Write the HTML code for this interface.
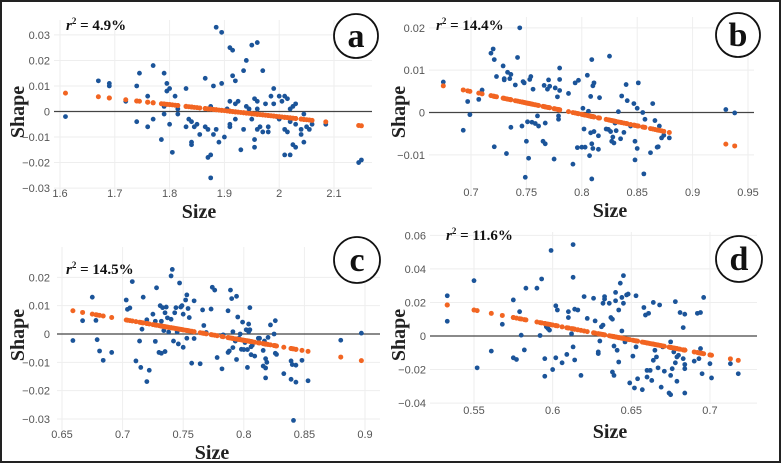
<!DOCTYPE html>
<html><head><meta charset="utf-8"><style>
html,body{margin:0;padding:0;background:#fff}
#wrap{position:relative;width:781px;height:463px;box-sizing:border-box;border:2px solid #222;overflow:hidden}
svg{position:absolute;left:0;top:0}
</style></head><body>
<div id="wrap">
<svg id="fig" width="781" height="463" viewBox="0 0 781 463"></svg>
</div>
<script>
// Panel a data
const aX=[1.61,1.67,1.69,1.69,1.72,1.74,1.74,1.745,1.76,1.76,1.77,1.77,1.785,1.79,1.79,1.795,1.795,1.8,1.79,1.8,1.805,1.81,1.815,1.815,1.83,1.83,1.835,1.84,1.84,1.84,1.845,1.85,1.855,1.865,1.865,1.87,1.87,1.875,1.875,1.875,1.88,1.885,1.88,1.885,1.89,1.895,1.895,1.9,1.905,1.91,1.91,1.91,1.91,1.915,1.915,1.92,1.92,1.92,1.925,1.93,1.935,1.935,1.94,1.94,1.945,1.95,1.95,1.955,1.955,1.955,1.96,1.96,1.96,1.96,1.965,1.97,1.97,1.975,1.98,1.98,1.985,1.99,1.99,1.995,2.0,2.0,2.005,2.01,2.01,2.01,2.015,2.015,2.02,2.02,2.02,2.025,2.025,2.03,2.03,2.03,2.04,2.04,2.045,2.045,2.05,2.055,2.06,2.085,2.145,2.15];
const aY=[-0.002,0.012,0.011,0.010,0.004,0.010,-0.004,0.015,0.006,-0.006,-0.003,0.018,-0.011,0.002,0.015,0.011,0.008,0.009,-0.001,-0.005,-0.016,0.006,0.001,-0.001,0.009,-0.006,-0.003,-0.004,-0.012,-0.013,-0.006,-0.005,-0.009,-0.006,0.013,-0.007,-0.018,-0.017,-0.026,0.002,-0.009,-0.007,0.010,0.033,-0.012,0.031,0.011,-0.010,0.001,0.025,0.004,-0.005,-0.006,0.024,0.014,0.012,0.003,-0.003,0.004,-0.015,0.016,-0.007,0.002,0.020,0.001,0.026,-0.003,0.005,-0.011,-0.014,0.027,0.004,0.001,-0.007,-0.006,0.016,-0.008,0.003,-0.008,-0.006,0.006,0.009,0.003,-0.002,0.006,-0.003,0.004,0.006,-0.017,-0.007,0.005,-0.008,0.001,-0.017,-0.004,0.002,-0.013,-0.014,0.003,-0.005,-0.007,-0.009,-0.001,-0.012,-0.006,-0.007,-0.005,-0.005,-0.020,-0.019];
const aFitX=[1.61,2.15];
const aFitY=[0.0072,-0.0056];
const aXTicks=[1.6,1.7,1.8,1.9,2,2.1];
const aYTicks=[0.03,0.02,0.01,0,-0.01,-0.02,-0.03];

// Panel b data
const bX=[0.675,0.693,0.697,0.699,0.707,0.71,0.718,0.72,0.721,0.721,0.723,0.729,0.73,0.73,0.732,0.733,0.735,0.736,0.736,0.74,0.742,0.744,0.746,0.747,0.748,0.749,0.75,0.751,0.752,0.753,0.754,0.755,0.756,0.758,0.76,0.761,0.765,0.766,0.767,0.767,0.769,0.77,0.771,0.775,0.776,0.778,0.779,0.779,0.78,0.78,0.78,0.788,0.792,0.794,0.796,0.797,0.8,0.801,0.803,0.802,0.805,0.806,0.807,0.808,0.808,0.809,0.809,0.809,0.81,0.81,0.811,0.811,0.815,0.815,0.816,0.822,0.824,0.825,0.826,0.827,0.828,0.829,0.83,0.831,0.833,0.835,0.836,0.838,0.84,0.841,0.844,0.847,0.848,0.848,0.85,0.85,0.851,0.855,0.856,0.857,0.862,0.864,0.866,0.868,0.869,0.87,0.872,0.874,0.879,0.93,0.938];
const bY=[0.0072,-0.0042,0.0026,-0.0005,0.0031,0.0053,0.014,0.015,0.0125,-0.0081,0.0085,0.011,0.008,0.0077,-0.0097,0.0095,0.008,0.009,-0.0035,0.0065,0.013,0.02,-0.0032,0.0073,0.007,-0.0153,-0.0068,-0.0022,-0.0108,0.0078,0.0085,-0.0023,0.0055,-0.0026,-0.0008,-0.0032,-0.0068,0.0064,-0.0074,-0.0025,0.0055,0.0077,0.0062,-0.011,0.0058,0.0037,-0.0016,-0.0008,0.0105,0.0078,0.0052,0.0045,-0.0122,0.007,-0.0083,0.0076,-0.0082,0.001,-0.0082,-0.0039,0.0088,0.0003,-0.0102,-0.0048,0.0038,0.0125,-0.0157,-0.0074,0.0063,-0.0085,0.007,-0.0045,-0.0087,-0.0055,0.0035,-0.0039,-0.004,0.0133,-0.0045,-0.0068,-0.0058,-0.0072,-0.0025,-0.0043,0.0002,-0.0062,0.0039,-0.0047,0.0066,0.0028,-0.0032,0.0021,-0.0112,-0.0068,0.001,-0.0085,0.007,0.0,-0.0145,-0.0016,-0.0095,0.0021,-0.0019,-0.0082,-0.0081,-0.0032,-0.006,-0.0054,-0.006,0.0007,-0.0001];
const bFitX=[0.675,0.938];
const bFitY=[0.0063,-0.0079];
const bXTicks=[0.7,0.75,0.8,0.85,0.9,0.95];
const bYTicks=[0.02,0.01,0,-0.01];

// Panel c data
const cX=[0.659,0.667,0.675,0.678,0.679,0.681,0.684,0.691,0.703,0.704,0.706,0.708,0.711,0.714,0.715,0.716,0.717,0.72,0.72,0.722,0.725,0.727,0.728,0.727,0.73,0.731,0.732,0.732,0.733,0.734,0.735,0.735,0.736,0.737,0.738,0.74,0.74,0.741,0.742,0.743,0.744,0.745,0.746,0.747,0.748,0.749,0.75,0.75,0.752,0.753,0.753,0.754,0.755,0.757,0.759,0.759,0.764,0.766,0.767,0.769,0.773,0.774,0.776,0.778,0.782,0.783,0.787,0.787,0.788,0.789,0.79,0.791,0.791,0.793,0.794,0.794,0.795,0.796,0.797,0.798,0.799,0.8,0.801,0.802,0.803,0.803,0.804,0.804,0.805,0.805,0.806,0.806,0.807,0.809,0.812,0.813,0.816,0.816,0.817,0.818,0.818,0.818,0.819,0.82,0.822,0.825,0.826,0.826,0.827,0.833,0.839,0.839,0.84,0.841,0.843,0.843,0.848,0.853,0.88,0.897];
const cY=[-0.0023,0.0047,0.013,0.0048,-0.002,-0.006,-0.0093,-0.0065,0.012,0.0087,0.0092,0.0185,-0.0095,-0.0025,-0.0118,0.0017,0.013,0.005,-0.0168,-0.0128,0.007,0.0045,0.0163,-0.0026,-0.0065,0.01,0.0045,-0.0068,0.0093,0.0012,-0.0062,0.0075,0.0095,0.0057,0.0007,0.0052,0.0205,0.0228,-0.0025,0.0075,0.0093,0.0007,-0.0035,0.018,0.0095,0.01,-0.0047,0.007,0.012,0.0138,-0.0015,0.009,0.0058,-0.0103,0.0117,-0.0016,-0.0105,0.0085,0.003,0.0005,0.0088,0.0165,0.0155,-0.0083,-0.0123,-0.0003,0.0082,-0.0065,-0.006,0.0155,0.0125,0.0008,-0.0048,-0.0025,0.0133,-0.009,0.006,-0.0015,0.0,-0.0054,0.0042,-0.0055,-0.003,0.0015,-0.0118,-0.0055,0.0008,0.0035,0.0093,0.0015,-0.0073,-0.0045,-0.004,-0.0078,-0.0015,-0.0015,-0.0058,-0.0113,-0.0025,-0.0155,-0.012,-0.0087,-0.01,-0.0012,0.0032,0.0,0.0047,-0.0068,-0.0072,-0.014,-0.0095,-0.016,-0.0108,-0.0305,-0.011,-0.017,-0.0093,-0.0165,-0.0022,0.0003];
const cFitX=[0.659,0.897];
const cFitY=[0.0082,-0.0094];
const cXTicks=[0.65,0.7,0.75,0.8,0.85,0.9];
const cYTicks=[0.02,0.01,0,-0.01,-0.02,-0.03];

// Panel d data
const dX=[0.533,0.533,0.55,0.552,0.561,0.568,0.575,0.575,0.577,0.579,0.58,0.582,0.583,0.59,0.592,0.593,0.595,0.595,0.596,0.597,0.598,0.599,0.6,0.602,0.602,0.603,0.606,0.609,0.61,0.61,0.612,0.613,0.613,0.613,0.614,0.614,0.616,0.618,0.62,0.622,0.626,0.627,0.629,0.629,0.63,0.631,0.632,0.632,0.633,0.633,0.636,0.637,0.638,0.638,0.639,0.639,0.64,0.64,0.641,0.642,0.642,0.643,0.644,0.644,0.645,0.645,0.646,0.647,0.648,0.649,0.651,0.652,0.653,0.653,0.654,0.657,0.658,0.659,0.66,0.66,0.661,0.662,0.663,0.664,0.664,0.665,0.666,0.667,0.668,0.669,0.67,0.671,0.674,0.675,0.675,0.675,0.676,0.677,0.678,0.678,0.679,0.679,0.68,0.681,0.683,0.683,0.684,0.684,0.684,0.684,0.69,0.692,0.693,0.694,0.694,0.695,0.696,0.7,0.701,0.713,0.718];
const dY=[0.024,0.0088,0.033,-0.019,-0.009,0.007,0.0215,-0.013,-0.014,0.0145,0.0005,-0.0083,0.0285,0.0285,0.0003,0.034,-0.0135,-0.024,0.0055,0.0045,0.0035,0.051,-0.02,-0.013,0.018,0.0155,-0.016,-0.011,0.011,0.0145,0.0013,0.0545,0.035,-0.0065,0.016,-0.0143,0.0155,-0.0235,0.0235,0.0105,0.0225,0.009,-0.0105,-0.0095,-0.003,0.0055,0.0195,0.0065,0.022,0.0235,0.0195,0.011,0.01,-0.0215,-0.0235,-0.006,0.021,0.026,-0.0085,0.0155,-0.0155,0.0315,0.003,0.023,0.036,0.0195,-0.0035,0.0245,0.025,-0.028,-0.012,-0.031,0.024,-0.0065,-0.0255,-0.032,0.017,0.0125,-0.0245,-0.0205,0.0135,-0.0205,-0.0265,0.02,-0.0145,-0.0085,-0.0125,-0.019,0.0185,-0.0305,-0.0065,-0.021,-0.034,-0.035,-0.0035,-0.0235,-0.0195,-0.0095,-0.016,0.0205,-0.027,-0.0125,-0.0115,0.014,-0.0135,0.005,0.013,-0.0195,-0.017,-0.034,-0.015,0.0135,-0.0135,0.014,-0.0075,-0.0225,0.023,-0.0165,-0.025,-0.0165,-0.0225];
const dFitX=[0.533,0.718];
const dFitY=[0.0185,-0.0145];
const dXTicks=[0.55,0.6,0.65,0.7];
const dYTicks=[0.06,0.04,0.02,0,-0.02,-0.04];

const NS='http://www.w3.org/2000/svg';
const svg=document.getElementById('fig');
function mk(tag,attrs,parent){const e=document.createElementNS(NS,tag);for(const k in attrs)e.setAttribute(k,attrs[k]);(parent||svg).appendChild(e);return e;}
function fmt(v){if(v===0)return '0';let s=String(Math.round(v*1000)/1000);if(s.startsWith('-'))s='\u2212'+s.slice(1);return s;}

const panels=[
 {id:'a',X:aX,Y:aY,FX:aFitX,FY:aFitY,XT:aXTicks,YT:aYTicks,x0:1.6,px0:58,kx:548,ky:2553,py0:109.5,rect:[52,18,370,192],xl:195,yr:48,size:[197,216],shape:[22,110],r2:[64,28,'4.9%'],circ:[354,34,22]},
 {id:'b',X:bX,Y:bY,FX:bFitX,FY:bFitY,XT:bXTicks,YT:bYTicks,x0:0.7,px0:469,kx:1108,ky:4233,py0:110.5,rect:[427,15,752,192],xl:194,yr:423,size:[608,215],shape:[403,110],r2:[434,28,'14.4%'],circ:[736,33,22]},
 {id:'c',X:cX,Y:cY,FX:cFitX,FY:cFitY,XT:cXTicks,YT:cYTicks,x0:0.65,px0:60,kx:1212,ky:2833,py0:332,rect:[55,245,378,428],xl:436,yr:48,size:[210,457],shape:[22,333],r2:[64,272,'14.5%'],circ:[355,258,23]},
 {id:'d',X:dX,Y:dY,FX:dFitX,FY:dFitY,XT:dXTicks,YT:dYTicks,x0:0.55,px0:472,kx:1573,ky:1677,py0:334,rect:[428,230,755,402],xl:412,yr:424,size:[608,436],shape:[403,333],r2:[444,238,'11.6%'],circ:[737,257,23]}
];

panels.forEach(p=>{
 const g=mk('g',{});
 
 
 const xs=v=>p.px0+(v-p.x0)*p.kx;
 const ys=v=>p.py0-v*p.ky;
 const [L,T,R,B]=p.rect;
 p.XT.forEach(t=>{
  const x=xs(t);
  const gl=mk('line',{x1:x,x2:x,y1:T,y2:B,stroke:'#eeeeee','stroke-width':1},g);
  
  
  const tx=mk('text',{x:x,y:p.xl,'text-anchor':'middle','font-family':'Liberation Sans, sans-serif','font-size':11,fill:'#555'},g);
  tx.textContent=fmt(t);
  
  
 });
 p.YT.forEach(t=>{
  const y=ys(t);
  if(t!==0){const gl=mk('line',{x1:L,x2:R,y1:y,y2:y,stroke:'#eeeeee','stroke-width':1},g);
   
   }
  const tx=mk('text',{x:p.yr,y:y+4,'text-anchor':'end','font-family':'Liberation Sans, sans-serif','font-size':11,fill:'#555'},g);
  tx.textContent=fmt(t);
  
  
 });
 const zl=mk('line',{x1:L,x2:R,y1:ys(0),y2:ys(0),stroke:'#444','stroke-width':1.2},g);
 
 
 p.X.forEach((xv,i)=>{
  const c=mk('circle',{cx:xs(xv),cy:ys(p.Y[i]),r:2.4,fill:'#1b5499'},g);
  
  
 });
 const slope=(p.FY[1]-p.FY[0])/(p.FX[1]-p.FX[0]);
 p.X.forEach(xv=>{
  const fv=p.FY[0]+(xv-p.FX[0])*slope;
  const c=mk('circle',{cx:xs(xv),cy:ys(fv),r:2.5,fill:'#f26522'},g);
  
  
 });
 const st=mk('text',{x:p.size[0],y:p.size[1],'text-anchor':'middle','font-family':'Liberation Serif, serif','font-weight':'bold','font-size':20,fill:'#222'},g);
 st.textContent='Size';
 
 
 const sh=mk('text',{x:p.shape[0],y:p.shape[1],'text-anchor':'middle','font-family':'Liberation Serif, serif','font-weight':'bold','font-size':20,fill:'#222',transform:'rotate(-90 '+p.shape[0]+' '+p.shape[1]+')'},g);
 sh.textContent='Shape';
 
 
 const r2=mk('text',{x:p.r2[0],y:p.r2[1],'font-family':'Liberation Serif, serif','font-weight':'bold','font-size':15,fill:'#111'},g);
 r2.innerHTML='<tspan font-style="italic">r</tspan><tspan dy="-6" font-size="9">2</tspan><tspan dy="6"> = '+p.r2[2]+'</tspan>';
 
 
 const ci=mk('circle',{cx:p.circ[0],cy:p.circ[1],r:p.circ[2],fill:'#fff',stroke:'#111','stroke-width':1.8},g);
 
 
 const lt=mk('text',{x:p.circ[0],y:p.circ[1]+11,'text-anchor':'middle','font-family':'Liberation Serif, serif','font-weight':'bold','font-size':34,fill:'#111'},g);
 lt.textContent=p.id;
 
 
});
</script>
</body></html>
